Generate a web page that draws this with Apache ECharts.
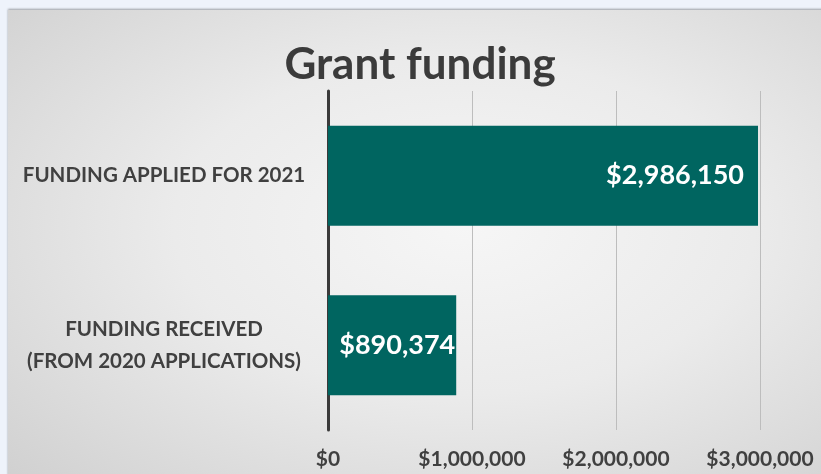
<!DOCTYPE html>
<html>
<head>
	<meta charset="utf-8">
	<title>Grant funding</title>
	<style>
		html, body{
			margin: 0;
			padding: 0;
			background: #eef3fb;
		}
		.slide{
			position: absolute;
			left: 8px;
			top: 10px;
			width: 830px;
			height: 480px;
			background: radial-gradient(ellipse at 55% 45%, #f6f6f6 0%, #ebebeb 45%, #cfcfcf 100%);
			box-shadow: 0 -1px 2px rgba(0,0,0,0.35);
		}
		#chart{
			position: absolute;
			left: 0;
			top: 0;
			width: 821px;
			height: 474px;
		}
	</style>
</head>
<body>
<div class="slide"></div>
<div id="chart"></div>
<script src="https://cdn.jsdelivr.net/npm/echarts@6/dist/echarts.min.js"></script>
<script>
	var categories = ['FUNDING APPLIED FOR 2021', 'FUNDING RECEIVED\n(FROM 2020 APPLICATIONS)'];
	var funding = [2986150, 890374];
	var labelDistance = [14, 1]; // second label barely fits in its bar
	var ticks = [0, 1000000, 2000000, 3000000];

	function money(v){
		return '$' + Number(v).toLocaleString('en-US');
	}

	var barData = [];
	for (var i = 0; i < funding.length; i++) {
		barData.push({
			value: funding[i],
			label: { distance: labelDistance[i] }
		});
	}

	var myChart = echarts.init(document.getElementById('chart'));
	myChart.setOption({
		backgroundColor: 'transparent',
		animation: false,
		textStyle: { fontFamily: 'Lato' },
		title: {
			text: 'Grant funding',
			left: 415,
			top: 38,
			textAlign: 'center',
			textStyle: {
				fontFamily: 'Lato',
				fontWeight: 'bold',
				fontSize: 44,
				color: '#3b3b3b'
			}
		},
		grid: {
			left: 328,
			right: 61,
			top: 91,
			bottom: 44
		},
		xAxis: {
			type: 'value',
			min: ticks[0],
			max: ticks[ticks.length - 1],
			interval: 1000000,
			axisLine: { show: false },
			axisTick: { show: false },
			splitLine: { lineStyle: { color: '#bdbdbd', width: 1 } },
			axisLabel: {
				margin: 19,
				fontFamily: 'Lato',
				fontWeight: 'bold',
				fontSize: 21,
				color: '#404040',
				formatter: money
			}
		},
		yAxis: {
			type: 'category',
			inverse: true,
			data: categories,
			axisTick: { show: false },
			axisLine: { lineStyle: { color: '#3a3a3a', width: 3 } },
			axisLabel: {
				margin: 164,
				align: 'center',
				fontFamily: 'Lato',
				fontWeight: 'bold',
				fontSize: 20.5,
				lineHeight: 32,
				color: '#404040'
			}
		},
		series: [{
			type: 'bar',
			data: barData,
			barWidth: 100,
			itemStyle: { color: '#006560' },
			label: {
				show: true,
				position: 'insideRight',
				fontFamily: 'Lato',
				fontWeight: 'bold',
				fontSize: 27,
				color: '#ffffff',
				formatter: function(p){ return money(p.value); }
			}
		}]
	});
</script>
</body>
</html>
